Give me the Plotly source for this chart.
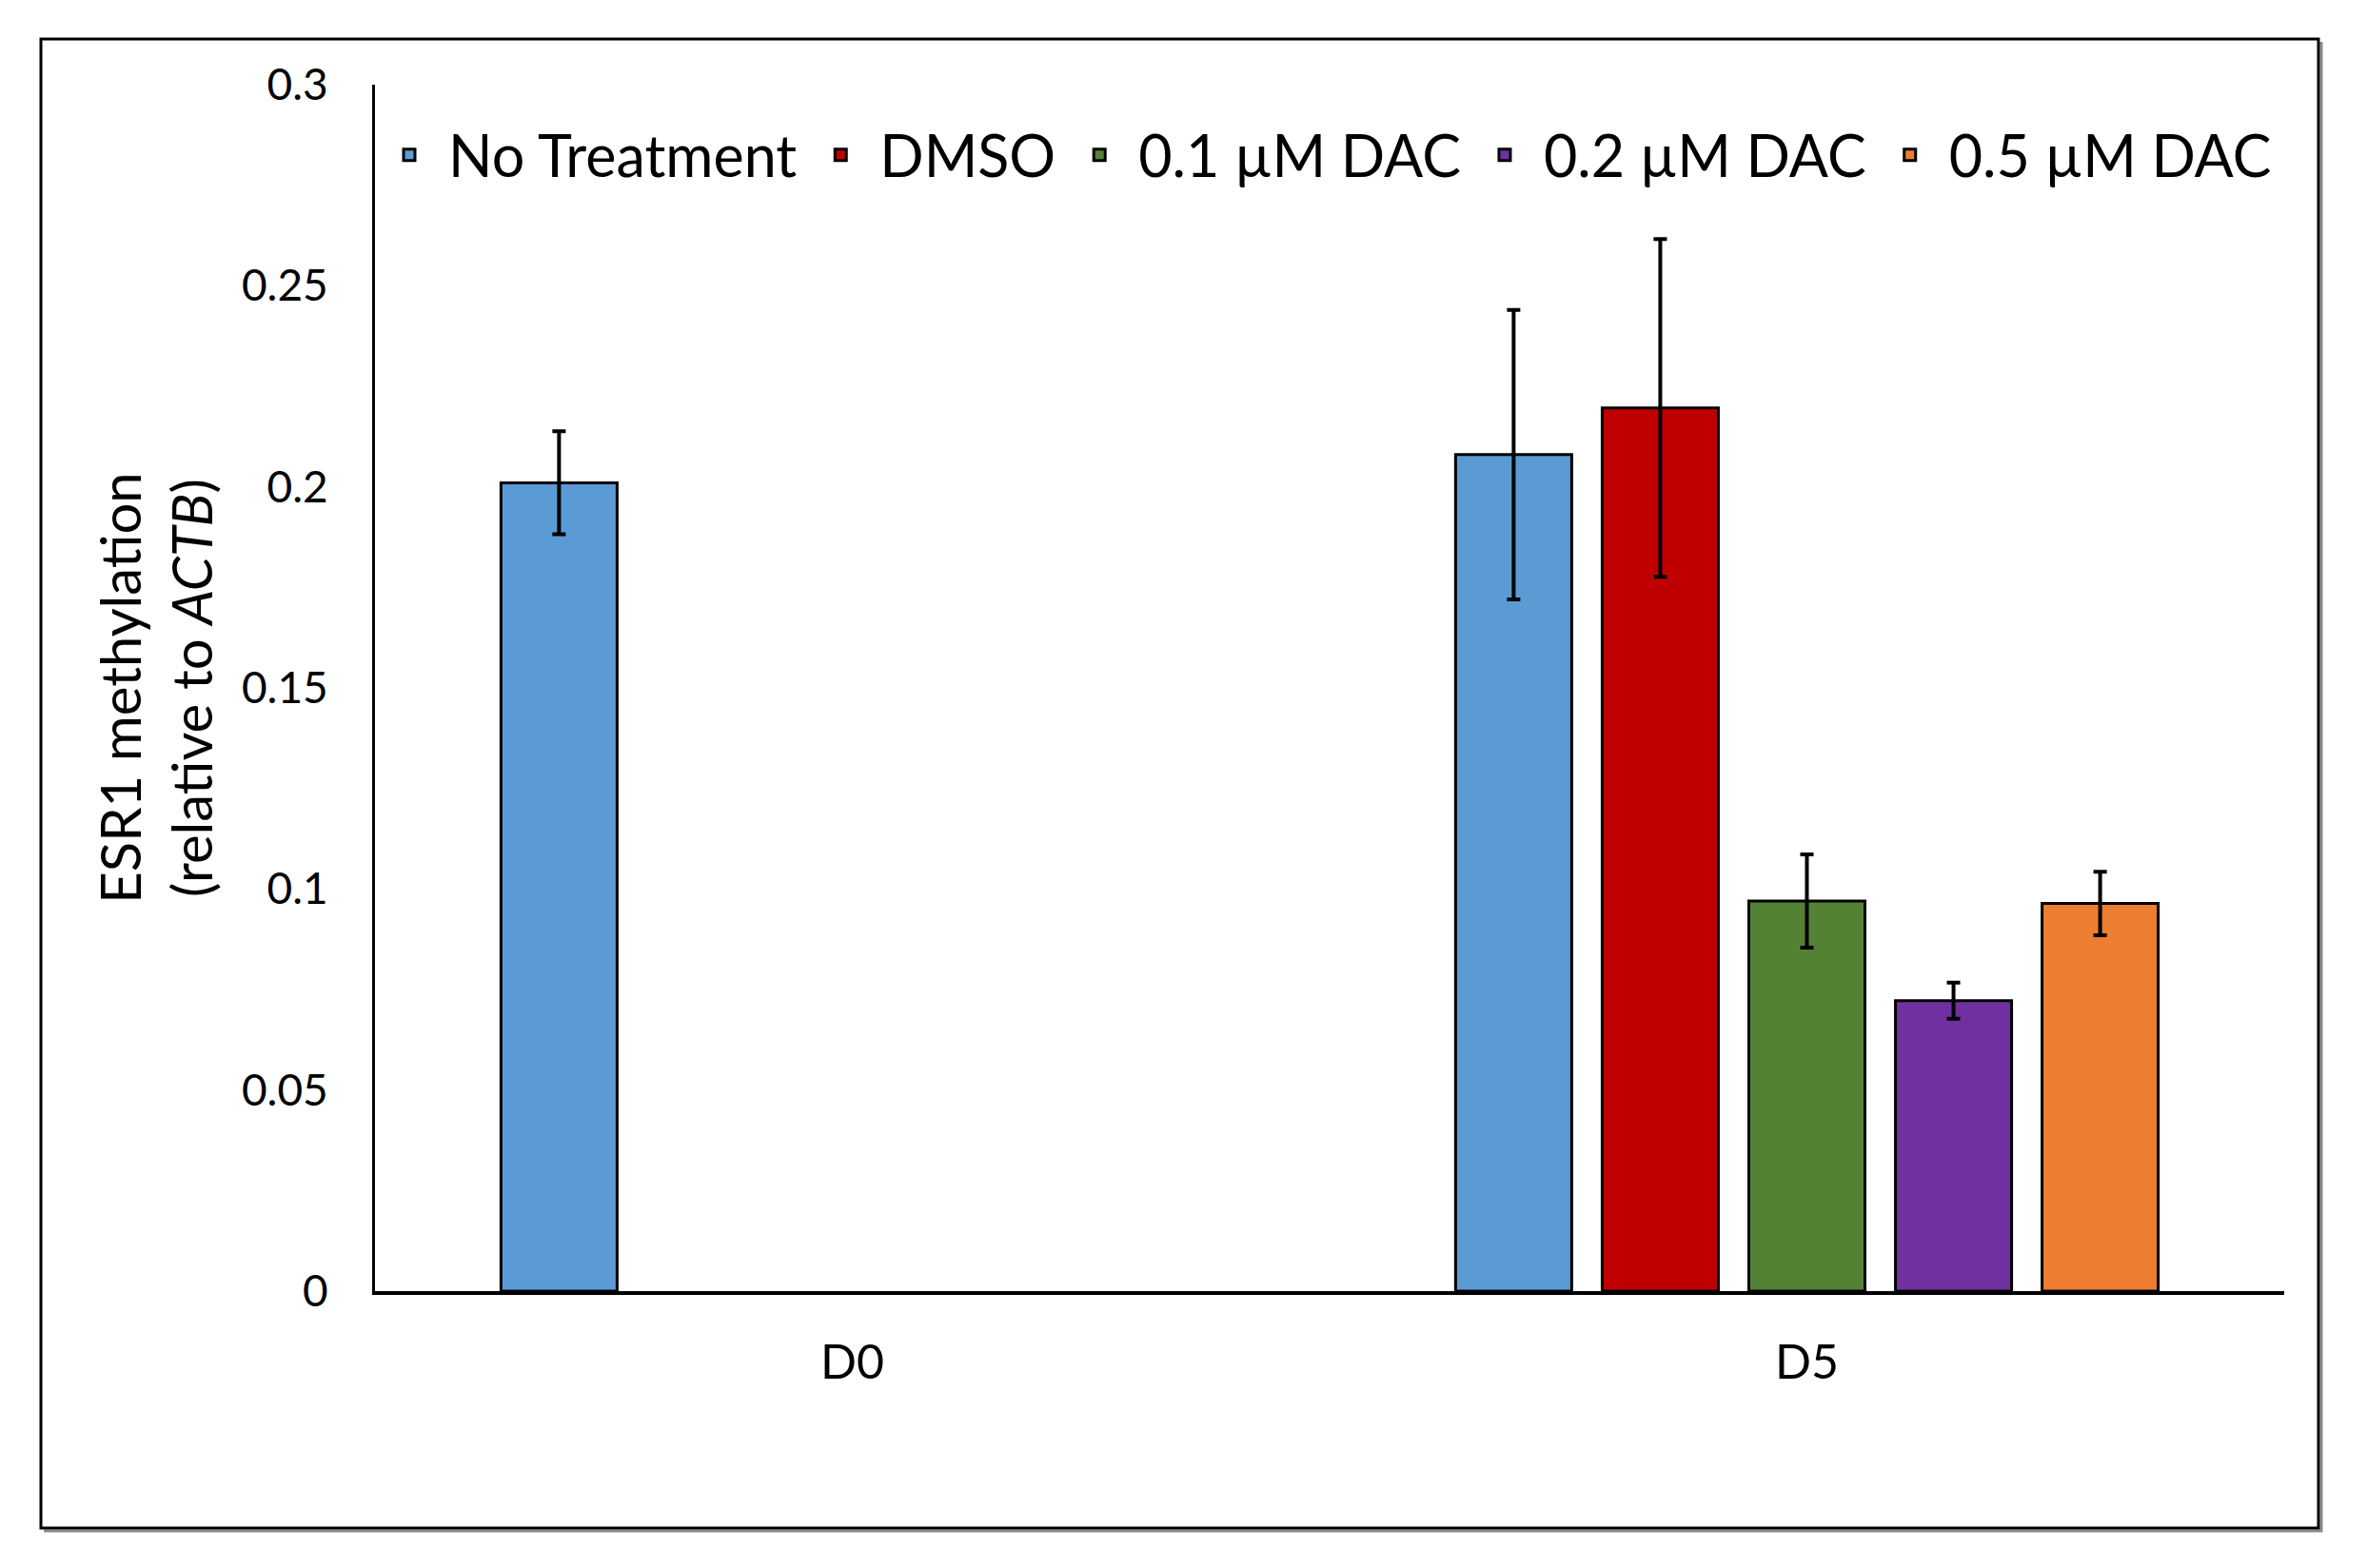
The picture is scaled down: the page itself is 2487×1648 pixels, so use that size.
import plotly.graph_objects as go

categories = ["D0", "D5"]
series_names = ["No Treatment", "DMSO", "0.1 µM DAC", "0.2 µM DAC", "0.5 µM DAC"]
no_treatment = [0.201, 0.208]
dmso = [None, 0.2196]
dac_01 = [None, 0.0970]
dac_02 = [None, 0.0722]
dac_05 = [None, 0.0964]
err_no_treatment = [0.0128, 0.036]
err_dmso = [None, 0.042]
err_dac_01 = [None, 0.0116]
err_dac_02 = [None, 0.0045]
err_dac_05 = [None, 0.0079]
y_ticks = [0, 0.05, 0.1, 0.15, 0.2, 0.25, 0.3]
y_tick_labels = ["0", "0.05", "0.1", "0.15", "0.2", "0.25", "0.3"]

values = [no_treatment, dmso, dac_01, dac_02, dac_05]
errors = [err_no_treatment, err_dmso, err_dac_01, err_dac_02, err_dac_05]
colors = ["#5B9BD5", "#C00000", "#548235", "#7030A0", "#ED7D31"]

W, H = 2487, 1648
L, R, T, B = 386, 95, 81, 299
pw, ph = W - L - R, H - T - B

fig = go.Figure()
for name, vals, errs, col in zip(series_names, values, errors, colors):
    fig.add_trace(go.Bar(
        x=categories, y=vals, name=name,
        marker=dict(color=col, line=dict(color="black", width=3)),
        error_y=dict(type="data", array=errs, visible=True,
                     color="black", thickness=4, width=7),
    ))

def px_x(p):
    return (p - L) / pw

def px_y(p):
    return (H - B - p) / ph

# outer frame with slight shadow on right/bottom
fig.add_shape(type="path", xref="paper", yref="paper",
              path=f"M {px_x(2431)},{px_y(36)} L {px_x(2431)},{px_y(1601)} L {px_x(38)},{px_y(1601)}",
              line=dict(color="#8a8a8a", width=3), layer="below")
fig.add_shape(type="rect", xref="paper", yref="paper",
              x0=px_x(35), x1=px_x(2428), y0=px_y(1598), y1=px_y(33),
              line=dict(color="black", width=3), fillcolor="rgba(0,0,0,0)",
              layer="below")

font_family = "Lato, 'Open Sans', sans-serif"
fig.update_layout(
    width=W, height=H,
    margin=dict(l=L, r=R, t=T, b=B, autoexpand=False),
    paper_bgcolor="white", plot_bgcolor="white",
    barmode="group", bargap=0.232, bargroupgap=0.208,
    font=dict(family=font_family, color="black"),
    showlegend=True,
    legend=dict(orientation="h", xref="container", yref="container",
                x=381 / W, y=(H - 155) / H,
                xanchor="left", yanchor="middle",
                font=dict(size=61, family=font_family, color="black"),
                bgcolor="rgba(0,0,0,0)", itemclick=False,
                itemwidth=72, traceorder="normal"),
    xaxis=dict(showline=True, linecolor="black", linewidth=3.5,
               showgrid=False, zeroline=False, ticks="",
               tickfont=dict(size=50, family=font_family, color="black"),
               ticklabelstandoff=28),
    yaxis=dict(range=[0, 0.3], showline=True, linecolor="black", linewidth=3,
               showgrid=False, zeroline=False, ticks="",
               tickvals=y_ticks, ticktext=y_tick_labels,
               tickfont=dict(size=46, family=font_family, color="black"),
               ticklabelstandoff=37,
               title=dict(text="ESR1 methylation<br>(relative to <i>ACTB</i>)",
                          font=dict(size=58, family=font_family, color="black"),
                          standoff=12)),
)

fig.write_html("out.html")
